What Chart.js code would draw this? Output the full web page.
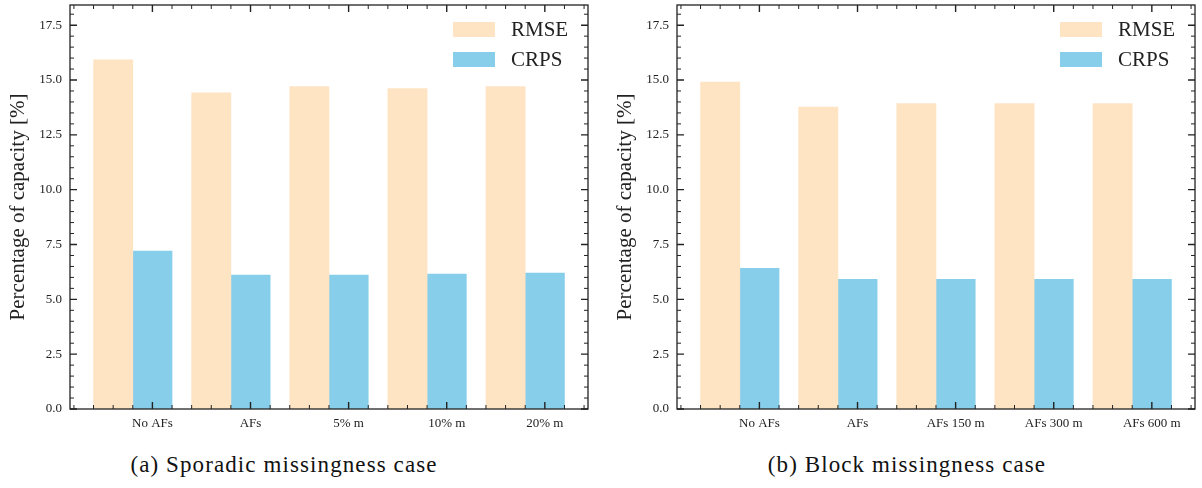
<!DOCTYPE html>
<html>
<head>
<meta charset="utf-8">
<script src="https://cdn.jsdelivr.net/npm/chart.js@4.4.1/dist/chart.umd.min.js"></script>
<style>
  html, body { margin: 0; padding: 0; background: #fff; }
  body { width: 1202px; height: 488px; position: relative; overflow: hidden; }
  .panel { position: absolute; top: 0; }
  .caption {
    position: absolute; top: 451px; width: 500px; text-align: center;
    font-family: "Liberation Serif", serif; font-size: 23px; line-height: 28px;
    letter-spacing: 1.1px; color: #111;
  }
</style>
</head>
<body>
<div class="panel" style="left:0px"><canvas id="chartA" width="600" height="440"></canvas></div>
<div class="panel" style="left:607px"><canvas id="chartB" width="595" height="440"></canvas></div>
<div class="caption" style="left:34px">(a) Sporadic missingness case</div>
<div class="caption" style="left:657px">(b) Block missingness case</div>

<script>
// data
const categoriesA = ['No AFs', 'AFs', '5% m', '10% m', '20% m'];
const rmseA = [15.92, 14.42, 14.70, 14.61, 14.70];
const crpsA = [7.20, 6.11, 6.11, 6.15, 6.20];

const categoriesB = ['No AFs', 'AFs', 'AFs 150 m', 'AFs 300 m', 'AFs 600 m'];
const rmseB = [14.91, 13.77, 13.92, 13.92, 13.92];
const crpsB = [6.41, 5.91, 5.91, 5.91, 5.91];

const yMax = 18.42;
const yStep = 2.5;

const serif = '"Liberation Serif", "Times New Roman", serif';
const ink = '#222';

// matplotlib-style frame with inward major/minor ticks on all four sides
const frameTicks = {
  id: 'frameTicks',
  afterDatasetsDraw(chart, args, opts) {
    const { ctx, chartArea: a, scales: { x, y } } = chart;
    ctx.save();
    ctx.strokeStyle = ink;

    function steps(scale, step, major, fn) {
      const k0 = Math.ceil(scale.min / step - 1e-9);
      for (let k = k0; k * step <= scale.max + 1e-9; k++) {
        const v = k * step;
        const r = v / major;
        fn(scale.getPixelForValue(v), Math.abs(r - Math.round(r)) < 1e-6);
      }
    }

    steps(x, opts.xMinor, opts.xMajor, (px, isMajor) => {
      const len = isMajor ? opts.majorLen : opts.minorLen;
      ctx.lineWidth = isMajor ? 1.4 : 1;
      ctx.beginPath();
      ctx.moveTo(px, a.bottom); ctx.lineTo(px, a.bottom - len);
      ctx.moveTo(px, a.top); ctx.lineTo(px, a.top + len);
      ctx.stroke();
    });
    steps(y, opts.yMinor, opts.yMajor, (py, isMajor) => {
      const len = isMajor ? opts.majorLen : opts.minorLen;
      ctx.lineWidth = isMajor ? 1.4 : 1;
      ctx.beginPath();
      ctx.moveTo(a.left, py); ctx.lineTo(a.left + len, py);
      ctx.moveTo(a.right, py); ctx.lineTo(a.right - len, py);
      ctx.stroke();
    });

    ctx.lineWidth = 1.3;
    ctx.strokeRect(a.left, a.top, a.right - a.left, a.bottom - a.top);
    ctx.restore();
  }
};

// legend in the upper right corner, inside the axes
const cornerLegend = {
  id: 'cornerLegend',
  afterDatasetsDraw(chart) {
    const { ctx, chartArea: a } = chart;
    ctx.save();
    ctx.font = '21px ' + serif;
    ctx.textBaseline = 'middle';
    ctx.fillStyle = ink;
    chart.data.datasets.forEach((ds, i) => {
      const boxRight = a.right - 93;
      const top = a.top + 17 + i * 30;
      ctx.fillStyle = ds.backgroundColor;
      ctx.fillRect(boxRight - 42, top, 42, 15);
      ctx.fillStyle = ink;
      ctx.fillText(ds.label, boxRight + 16, top + 8);
    });
    ctx.restore();
  }
};

function makeChart(id, categories, rmse, crps, padRight) {
  const n = categories.length;
  // bars 0.4 wide: RMSE left of the tick, CRPS on it
  const lo = -0.6, hi = (n - 1) + 0.2;
  const margin = (hi - lo) * 0.05;

  new Chart(document.getElementById(id), {
    type: 'bar',
    data: {
      datasets: [
        {
          label: 'RMSE',
          data: rmse.map((v, i) => ({ x: i - 0.4, y: v })),
          backgroundColor: 'bisque'
        },
        {
          label: 'CRPS',
          data: crps.map((v, i) => ({ x: i, y: v })),
          backgroundColor: 'skyblue'
        }
      ]
    },
    options: {
      responsive: false,
      animation: false,
      grouped: false,
      barPercentage: 1,
      categoryPercentage: 1,
      borderWidth: 0,
      layout: { padding: { top: 5, right: padRight, bottom: 0, left: 0 } },
      plugins: {
        legend: { display: false },
        tooltip: { enabled: false },
        frameTicks: { xMajor: 1, xMinor: 0.2, yMajor: yStep, yMinor: 0.5, majorLen: 7, minorLen: 4 }
      },
      scales: {
        x: {
          type: 'linear',
          min: lo - margin,
          max: hi + margin,
          offset: false,
          grid: { display: false, drawTicks: false },
          border: { display: false },
          ticks: {
            stepSize: 1,
            includeBounds: false,
            autoSkip: false,
            maxRotation: 0,
            padding: 7,
            color: ink,
            font: { family: serif, size: 13 },
            callback: v => Number.isInteger(v) ? categories[v] : ''
          },
          afterFit: s => { s.height = 31; s.paddingLeft = 0; s.paddingRight = 0; }
        },
        y: {
          min: 0,
          max: yMax,
          grid: { display: false, drawTicks: false },
          border: { display: false },
          ticks: {
            stepSize: yStep,
            includeBounds: false,
            padding: 8,
            color: ink,
            font: { family: serif, size: 13 },
            callback: v => v.toFixed(1)
          },
          title: {
            display: true,
            text: 'Percentage of capacity [%]',
            color: ink,
            font: { family: serif, size: 21 },
            padding: { top: 6, bottom: 0 }
          },
          afterFit: s => { s.width = 70; s.paddingTop = 0; s.paddingBottom = 0; }
        }
      }
    },
    plugins: [frameTicks, cornerLegend]
  });
}

makeChart('chartA', categoriesA, rmseA, crpsA, 12);
makeChart('chartB', categoriesB, rmseB, crpsB, 7);
</script>
</body>
</html>
